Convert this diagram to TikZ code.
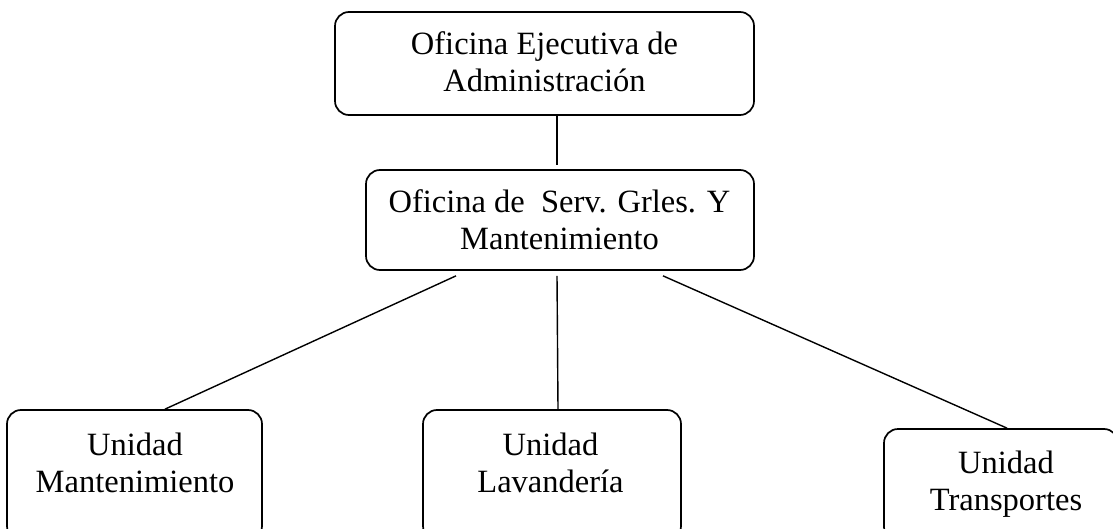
\documentclass[tikz,border=0pt]{standalone}
\usepackage{fontspec}
\setmainfont{Liberation Serif}
\usetikzlibrary{calc}
\begin{document}
\begin{tikzpicture}[x=1pt,y=-1pt,
  box/.style={draw, line width=1.7pt, rounded corners=14pt, inner sep=0pt},
  lbl/.style={align=center, anchor=base, inner sep=0pt, font=\fontsize{32.5}{37}\selectfont},
  conn/.style={line width=1.4pt}]
\useasboundingbox (0,0) rectangle (1113,529);
\clip (0,0) rectangle (1113,529);
% boxes
\node[box, minimum width=419pt, minimum height=103pt] (top) at (544.5,63.5) {};
\node[box, minimum width=388pt, minimum height=100pt] (mid) at (560,220) {};
\node[box, minimum width=255pt, minimum height=130pt] (bl) at (134.5,475) {};
\node[box, minimum width=258pt, minimum height=130pt] (bm) at (552,475) {};
\node[box, minimum width=234pt, minimum height=112pt] (br) at (1001,485) {};
% texts
\node[lbl] (ttop) at (544.5,92) {Oficina Ejecutiva de\\Administración};
\node[lbl] (tmid) at (559.5,250) {Oficina de\ \ Serv. Grles. Y\\Mantenimiento};
\node[lbl] (tbl) at (135,492) {Unidad\\Mantenimiento};
\node[lbl] (tbm) at (550.5,492) {Unidad\\Lavandería};
\node[lbl] (tbr) at (1006,510) {Unidad\\Transportes};
% connectors
\draw[conn] ($(top.south)+(12.5,0)$) -- ($(mid.north)+(-3,-4)$);
\draw[conn] ($(mid.south)+(-104,5)$) -- ($(bl.north)+(30.5,0)$);
\draw[conn] ($(mid.south)+(-3,5)$) -- ($(bm.north)+(6,0)$);
\draw[conn] ($(mid.south)+(103,5)$) -- ($(br.north)+(6,0)$);
\end{tikzpicture}
\end{document}
